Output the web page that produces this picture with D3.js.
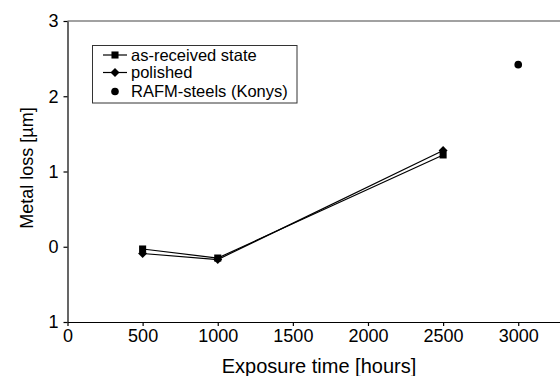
<!DOCTYPE html>
<html>
<head>
<meta charset="utf-8">
<script src="https://cdnjs.cloudflare.com/ajax/libs/d3/7.8.5/d3.min.js"></script>
<style>
  body { margin: 0; background: #fff; }
  svg { display: block; font-family: "Liberation Sans", Arial, sans-serif; }
</style>
</head>
<body>
<div id="chart"></div>
<script>
// data
var hours = [500, 1000, 2500];
var asReceived = [-0.03, -0.15, 1.22];
var polished = [-0.09, -0.17, 1.28];
var konysHours = [3000];
var konysLoss = [2.42];
var xTicks = [0, 500, 1000, 1500, 2000, 2500, 3000];
var yTicks = [-1, 0, 1, 2, 3];
var yTickLabels = ["1", "0", "1", "2", "3"];
var legendNames = ["as-received state", "polished", "RAFM-steels (Konys)"];

var width = 560, height = 376;
var svg = d3.select("#chart").append("svg")
  .attr("width", width)
  .attr("height", height);

var x = d3.scaleLinear().domain([0, 3300]).range([67.5, 563.3]);
var y = d3.scaleLinear().domain([-1, 3]).range([322, 21]);

// frame: top line runs off the right edge
svg.append("line")
  .attr("x1", x(0)).attr("x2", x(3300))
  .attr("y1", y(3)).attr("y2", y(3))
  .attr("stroke", "#444").attr("stroke-width", 1.2);

var xAxis = svg.append("g")
  .attr("transform", "translate(0," + y(-1) + ")")
  .call(d3.axisBottom(x).tickValues(xTicks).tickFormat(d3.format("d"))
    .tickSizeInner(4).tickSizeOuter(0).tickPadding(3));
xAxis.selectAll("text").attr("font-size", "18px").attr("fill", "#000");

var yAxis = svg.append("g")
  .attr("transform", "translate(" + x(0) + ",0)")
  .call(d3.axisLeft(y).tickValues(yTicks).tickFormat(function(d, i) { return yTickLabels[i]; })
    .tickSizeInner(4).tickSizeOuter(0).tickPadding(5));
yAxis.selectAll("text").attr("font-size", "18px").attr("fill", "#000");

svg.selectAll(".domain, .tick line").attr("stroke", "#000").attr("stroke-width", 1.2);

// axis titles
svg.append("text")
  .attr("x", 319).attr("y", 373)
  .attr("text-anchor", "middle")
  .attr("font-size", "20px")
  .text("Exposure time [hours]");

svg.append("text")
  .attr("transform", "translate(33,168) rotate(-90)")
  .attr("text-anchor", "middle")
  .attr("font-size", "18px")
  .text("Metal loss [\u00b5m]");

// series
var line = d3.line()
  .x(function(d) { return x(d[0]); })
  .y(function(d) { return y(d[1]); });

var seriesA = d3.zip(hours, asReceived);
var seriesB = d3.zip(hours, polished);
var konys = d3.zip(konysHours, konysLoss);

[seriesA, seriesB].forEach(function(s) {
  svg.append("path")
    .datum(s)
    .attr("d", line)
    .attr("fill", "none")
    .attr("stroke", "#000")
    .attr("stroke-width", 1.2);
});

// square rotated 45 degrees, as wide as it is tall
var rhombus = {
  draw: function(ctx, size) {
    var r = Math.sqrt(size / 2);
    ctx.moveTo(0, -r);
    ctx.lineTo(r, 0);
    ctx.lineTo(0, r);
    ctx.lineTo(-r, 0);
    ctx.closePath();
  }
};
var square = d3.symbol().type(d3.symbolSquare).size(50);
var diamond = d3.symbol().type(rhombus).size(40);

svg.selectAll(".sq").data(seriesA).enter().append("path")
  .attr("class", "sq")
  .attr("d", square)
  .attr("transform", function(d) { return "translate(" + x(d[0]) + "," + y(d[1]) + ")"; })
  .attr("fill", "#000");

svg.selectAll(".dm").data(seriesB).enter().append("path")
  .attr("class", "dm")
  .attr("d", diamond)
  .attr("transform", function(d) { return "translate(" + x(d[0]) + "," + y(d[1]) + ")"; })
  .attr("fill", "#000");

svg.selectAll(".dot").data(konys).enter().append("circle")
  .attr("class", "dot")
  .attr("cx", function(d) { return x(d[0]); })
  .attr("cy", function(d) { return y(d[1]); })
  .attr("r", 3.8)
  .attr("fill", "#000");

// legend
var lg = svg.append("g");
lg.append("rect")
  .attr("x", 92.5).attr("y", 45.5)
  .attr("width", 204.5).attr("height", 57.5)
  .attr("fill", "#fff")
  .attr("stroke", "#333").attr("stroke-width", 1);

var rowY = [55, 72.5, 91.5];
var rows = lg.selectAll(".row").data(legendNames).enter().append("g")
  .attr("transform", function(d, i) { return "translate(0," + rowY[i] + ")"; });

rows.filter(function(d, i) { return i < 2; }).append("line")
  .attr("x1", 103).attr("x2", 127)
  .attr("stroke", "#000").attr("stroke-width", 1.2);

rows.append("path")
  .attr("transform", "translate(115,0)")
  .attr("d", function(d, i) { return i === 0 ? square() : i === 1 ? diamond() : null; })
  .attr("fill", "#000");

rows.filter(function(d, i) { return i === 2; }).append("circle")
  .attr("cx", 115).attr("r", 3.8).attr("fill", "#000");

rows.append("text")
  .attr("x", 131)
  .attr("dy", "0.36em")
  .attr("font-size", "16.5px")
  .text(function(d) { return d; });
</script>
</body>
</html>
